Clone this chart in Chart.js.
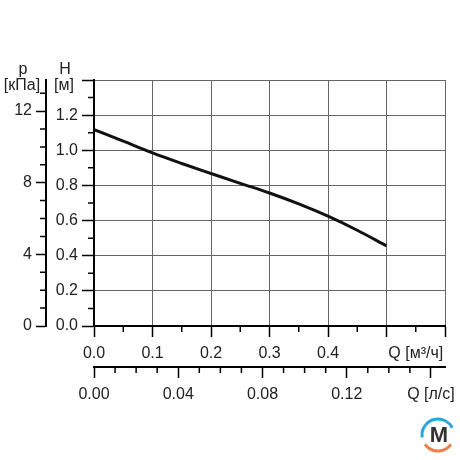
<!DOCTYPE html>
<html>
<head>
<meta charset="utf-8">
<script src="https://cdn.jsdelivr.net/npm/chart.js@4.4.1/dist/chart.umd.min.js"></script>
<style>
  body { margin: 0; background: #fff; }
  canvas { display: block; }
</style>
</head>
<body>
<canvas id="grafico" width="460" height="460"></canvas>
<script>
// Данные кривой насоса: подача Q [м³/ч] и напор H [м]
const potok = [0, 0.05, 0.1, 0.15, 0.2, 0.25, 0.3, 0.35, 0.4, 0.45, 0.5];
const napor = [1.118, 1.052, 0.985, 0.925, 0.868, 0.812, 0.757, 0.695, 0.625, 0.545, 0.456];

// Пределы осей
const qMax = 0.6;          // м³/ч
const hMax = 1.4;          // м
const pMax = hMax * 9.81;  // кПа
const qlsMax = qMax / 3.6; // л/с

const cor = '#222';
const corGrade = '#666';

// Подписи делений
const rotulosQ = ['0.0', '0.1', '0.2', '0.3', '0.4'];
const rotulosQls = ['0.00', '0.04', '0.08', '0.12'];
const rotulosH = ['0.0', '0.2', '0.4', '0.6', '0.8', '1.0', '1.2'];
const rotulosP = ['0', '4', '8', '12'];

const r = (v, k) => Math.round(v * k);

// Мелкие деления и подписи единиц рисуем плагином поверх осей
const extras = {
  id: 'extras',
  afterDraw(chart) {
    const ctx = chart.ctx;
    const s = chart.scales;
    ctx.save();
    ctx.strokeStyle = '#000';
    ctx.lineWidth = 1.5;
    ctx.beginPath();
    // x: каждые 0.05
    for (let i = 1; i < 12; i += 2) {
      const px = s.x.getPixelForValue(i * 0.05);
      ctx.moveTo(px, s.x.top); ctx.lineTo(px, s.x.top + 6);
    }
    // x2: каждые 0.01
    for (let i = 1; i <= 16; i++) {
      if (i % 4 === 0) continue;
      const px = s.x2.getPixelForValue(i * 0.01);
      ctx.moveTo(px, s.x2.top); ctx.lineTo(px, s.x2.top + 6);
    }
    // y: каждые 0.1
    for (let i = 1; i < 14; i += 2) {
      const py = s.y.getPixelForValue(i * 0.1);
      ctx.moveTo(s.y.right, py); ctx.lineTo(s.y.right - 6, py);
    }
    // y2: каждый 1 кПа
    for (let i = 1; i <= 13; i++) {
      if (i % 4 === 0) continue;
      const py = s.y2.getPixelForValue(i);
      ctx.moveTo(s.y2.right, py); ctx.lineTo(s.y2.right - 6, py);
    }
    ctx.stroke();

    // Заголовки левых осей
    const top = chart.chartArea.top;
    ctx.fillStyle = cor;
    ctx.font = '16px "Liberation Sans", Arial, sans-serif';
    ctx.textAlign = 'center';
    ctx.textBaseline = 'middle';
    ctx.fillText('p', 23, top - 10);
    ctx.fillText('[кПа]', 22, top + 6);
    ctx.fillText('H', 65, top - 10);
    ctx.fillText('[м]', 64, top + 6);

    // Логотип
    const lx = 438, ly = 435, lr = 16;
    ctx.lineWidth = 3;
    ctx.strokeStyle = '#29a8e0';
    ctx.beginPath();
    ctx.arc(lx, ly, lr, Math.PI * 0.95, Math.PI * 1.85);
    ctx.stroke();
    ctx.strokeStyle = '#e9804a';
    ctx.beginPath();
    ctx.arc(lx, ly, lr, Math.PI * 0.2, Math.PI * 0.8);
    ctx.stroke();
    ctx.fillStyle = '#333';
    ctx.font = 'bold 22px "Liberation Sans", Arial, sans-serif';
    ctx.fillText('M', lx + 1, ly + 1);
    ctx.restore();
  }
};

Chart.defaults.font.family = '"Liberation Sans", Arial, sans-serif';
Chart.defaults.font.size = 16;
Chart.defaults.color = cor;

new Chart(document.getElementById('grafico').getContext('2d'), {
  type: 'line',
  data: {
    datasets: [{
      data: potok.map((q, i) => ({ x: q, y: napor[i] })),
      borderColor: '#111',
      borderWidth: 3,
      pointRadius: 0,
      cubicInterpolationMode: 'monotone',
      xAxisID: 'x',
      yAxisID: 'y'
    }]
  },
  plugins: [extras],
  options: {
    responsive: false,
    animation: false,
    events: [],
    layout: { padding: { top: 80, right: 15, left: 0, bottom: 0 } },
    plugins: { legend: { display: false }, tooltip: { enabled: false } },
    scales: {
      x: {
        type: 'linear', position: 'bottom', weight: 0,
        min: 0, max: qMax,
        afterFit: (s) => { s.height = 41; s.paddingLeft = 0; s.paddingRight = 0; },
        border: { color: '#000', width: 2 },
        grid: {
          color: (c) => r(c.tick.value, 100) % 10 === 0 ? corGrade : 'transparent',
          tickColor: (c) => r(c.tick.value, 100) % 10 === 0 ? '#000' : 'transparent',
          tickLength: 11, tickWidth: 1.5
        },
        ticks: {
          stepSize: 0.05, autoSkip: false, maxRotation: 0, padding: 6.5, includeBounds: false,
          callback: (v) => {
            const k = r(v, 100);
            if (k === 55) return 'Q [м³/ч]';
            return k % 10 === 0 && k / 10 < rotulosQ.length ? rotulosQ[k / 10] : '';
          }
        }
      },
      x2: {
        type: 'linear', position: 'bottom', weight: 1,
        min: 0, max: qlsMax,
        afterFit: (s) => { s.height = 93; s.paddingLeft = 0; s.paddingRight = 0; },
        border: { color: '#000', width: 2 },
        grid: {
          drawOnChartArea: false,
          tickColor: (c) => r(c.tick.value, 100) % 4 === 0 ? '#000' : 'transparent',
          tickLength: 11, tickWidth: 1.5
        },
        ticks: {
          stepSize: 0.01, autoSkip: false, maxRotation: 0, padding: 6.5, includeBounds: false,
          callback: (v) => {
            const k = r(v, 100);
            if (k === 16) return 'Q [л/с]';
            return k % 4 === 0 && k / 4 < rotulosQls.length ? rotulosQls[k / 4] : '';
          }
        }
      },
      y: {
        type: 'linear', position: 'left', weight: 0,
        min: 0, max: hMax,
        afterFit: (s) => { s.width = 48; },
        border: { color: '#000', width: 2 },
        grid: {
          color: (c) => r(c.tick.value, 10) % 2 === 0 ? corGrade : 'transparent',
          tickColor: (c) => r(c.tick.value, 10) % 2 === 0 ? '#000' : 'transparent',
          tickLength: 12, tickWidth: 1.5
        },
        ticks: {
          stepSize: 0.1, autoSkip: false, padding: 4, includeBounds: false,
          callback: (v) => {
            const k = r(v, 10);
            return k % 2 === 0 && k / 2 < rotulosH.length ? rotulosH[k / 2] : '';
          }
        }
      },
      y2: {
        type: 'linear', position: 'left', weight: 1,
        min: 0, max: pMax,
        afterFit: (s) => { s.width = 46; },
        border: { color: '#000', width: 2 },
        grid: {
          drawOnChartArea: false,
          tickColor: (c) => r(c.tick.value, 1) % 4 === 0 ? '#000' : 'transparent',
          tickLength: 10, tickWidth: 1.5
        },
        ticks: {
          stepSize: 1, autoSkip: false, padding: 4, includeBounds: false,
          callback: (v) => {
            const k = r(v, 1);
            return k % 4 === 0 && k / 4 < rotulosP.length ? rotulosP[k / 4] : '';
          }
        }
      }
    }
  }
});
</script>
</body>
</html>
